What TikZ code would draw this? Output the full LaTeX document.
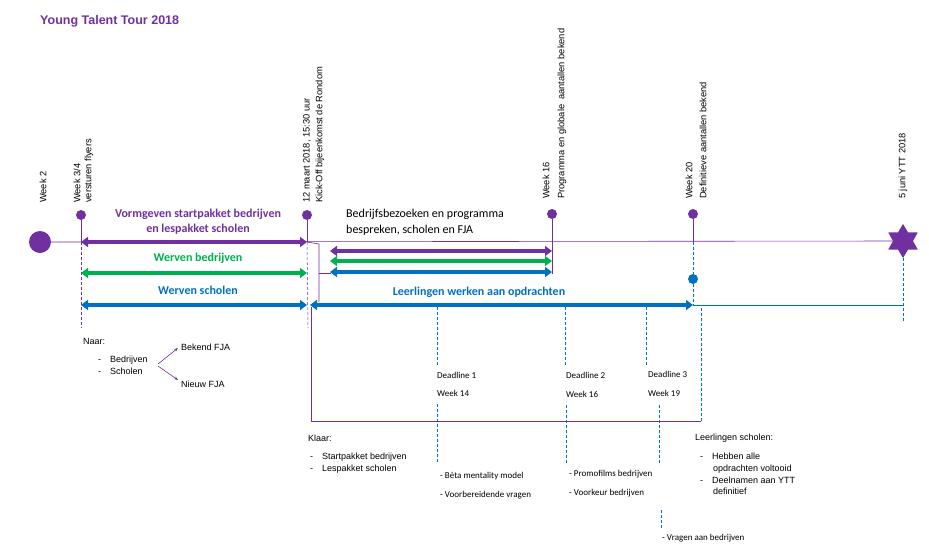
\documentclass[tikz,border=0pt]{standalone}
\usepackage{fontspec}
\setmainfont{Liberation Sans}
\newfontfamily\carl{Carlito}
\usetikzlibrary{arrows.meta,shapes.geometric}
\definecolor{pur}{RGB}{112,48,160}
\definecolor{grn}{RGB}{0,176,80}
\definecolor{blu}{RGB}{0,112,192}
\tikzset{
 x=1pt,y=-1pt,
 big/.style={line width=3.5pt,{Triangle[length=7pt,width=10pt]}-{Triangle[length=7pt,width=10pt]}},
 rot/.style={rotate=90,anchor=west,font=\fontsize{9.3}{10}\selectfont,inner sep=0pt},
 lab/.style={font=\carl\bfseries\fontsize{12}{15}\selectfont,align=center,inner sep=0pt},
 txt/.style={font=\fontsize{9}{11.5}\selectfont,anchor=west,inner sep=0pt,align=left},
 ctxt/.style={font=\carl\fontsize{9}{11}\selectfont,anchor=west,inner sep=0pt},
 dot/.style={circle,fill=pur,inner sep=0pt,minimum size=10pt},
 dsh/.style={blu,densely dashed,line width=0.5pt},
 thin/.style={pur,line width=0.6pt}
}
\begin{document}
\begin{tikzpicture}
\useasboundingbox (0,0) rectangle (929,552);
\node[anchor=west,font=\bfseries\fontsize{12.5}{14}\selectfont,text=pur,inner sep=0pt] (title) at (40,21) {Young Talent Tour 2018};
% main line
\node[circle,fill=pur,inner sep=0pt,minimum size=22pt] (w2) at (40,242) {};
\node[star,star points=6,star point ratio=1.7,fill=pur,inner sep=0pt,minimum size=34pt] (ytt) at (903,241) {};
\draw[thin] (w2) -- (ytt);
\node[dot] (d1) at (81,215) {};
\node[dot] (d2) at (307,215) {};
\node[dot] (d3) at (552,214) {};
\node[dot] (d4) at (693,214) {};
\node[circle,fill=blu,inner sep=0pt,minimum size=10pt] (bd) at (693,279) {};
\coordinate (a1) at (81,242); \coordinate (a2) at (307,242);
\coordinate (g1) at (81,273); \coordinate (g2) at (307,273);
\coordinate (b1) at (81,305); \coordinate (b2) at (307,305);
\coordinate (r1) at (330,251); \coordinate (r2) at (552,251);
\coordinate (s1) at (330,261); \coordinate (s2) at (552,261);
\coordinate (t1) at (330,272); \coordinate (t2) at (552,272);
\coordinate (l1) at (310,305); \coordinate (l2) at (693,305);
% verticals
\draw[thin] (d1) -- (a1);
\draw[pur,densely dashed,line width=0.5pt] (a1) -- (81,328);
\draw[thin] (d2) -- (a2);
\draw[pur,densely dashed,line width=0.5pt] (a2) -- (308,328);
\draw[thin] (d3) -- (552,274);
\draw[thin] (d4) -- (693,242);
\draw[dsh] (693,242) -- (bd);
\draw[dsh] (bd) -- (l2);
\draw[thin] (a2) -- (319,244) -- (319,302);
\draw[thin] (319,273) -- (331,273);
\draw[blu,line width=0.5pt] (l2) -- (903,305);
\draw[dsh] (ytt) -- (903,322);
% arrows
\draw[big,pur] (a1) -- (a2);
\draw[big,grn] (g1) -- (g2);
\draw[big,blu] (b1) -- (b2);
\draw[big,pur] (r1) -- (r2);
\draw[big,grn] (s1) -- (s2);
\draw[big,blu] (t1) -- (t2);
\draw[big,blu] (l1) -- (l2);
% labels
\node[lab,text=pur] (v) at (198,222) {Vormgeven startpakket bedrijven\\en lespakket scholen};
\node[lab,text=grn] (wb) at (198,258) {Werven bedrijven};
\node[lab,text=blu] (ws) at (198,290) {Werven scholen};
\node[lab,text=blu] (lw) at (479,292) {Leerlingen werken aan opdrachten};
\node[font=\carl\fontsize{12}{16}\selectfont,anchor=west,align=left,inner sep=0pt] (bb) at (346,222) {Bedrijfsbezoeken en programma\\bespreken, scholen en FJA};
% rotated
\node[rot] (r1t) at (43,203) {Week 2};
\node[rot] (r2t) at (77,203) {Week 3/4};
\node[rot] (r3t) at (89,203) {versturen flyers};
\node[rot] (r4t) at (307,203) {12 maart 2018, 15:30 uur};
\node[rot] (r5t) at (320,203) {Kick-Off bijeenkomst de Rondom};
\node[rot] (r6t) at (546,199) {Week 16};
\node[rot] (r7t) at (562,199) {Programma en globale\ \ aantallen bekend};
\node[rot] (r8t) at (689,199) {Week 20};
\node[rot] (r9t) at (703,199) {Definitieve aantallen bekend};
\node[rot] (r10t) at (903,199) {5 juni YTT 2018};
% deadlines
\draw[dsh] (437,307) -- (437,365); \draw[dsh] (437,404) -- (437,462);
\draw[dsh] (565,307) -- (565,365); \draw[dsh] (566,405) -- (566,465);
\draw[dsh] (646,307) -- (646,365); \draw[dsh] (659,405) -- (659,465);
\draw[dsh] (661,510) -- (661,530);
\draw[thin] (311,307) -- (311,421) -- (701,421);
\draw[dsh] (701,421) -- (701,305);
\node[ctxt] (dl1) at (437,375) {Deadline 1};
\node[ctxt] (wk1) at (437,393) {Week 14};
\node[ctxt] (dl2) at (566,375) {Deadline 2};
\node[ctxt] (wk2) at (566,394) {Week 16};
\node[ctxt] (dl3) at (648,374) {Deadline 3};
\node[ctxt] (wk3) at (648,393) {Week 19};
% bottom texts
\node[txt] (naar) at (83,341) {Naar:};
\node[txt] (bdr) at (98,360) {-\hspace{9pt}Bedrijven};
\node[txt] (sch) at (98,371) {-\hspace{9pt}Scholen};
\node[txt] (bek) at (181,347) {Bekend FJA};
\node[txt] (nie) at (181,384) {Nieuw FJA};
\draw[pur,line width=0.6pt,-{Stealth[length=4pt]}] (158,364) -- (178,348);
\draw[pur,line width=0.6pt,-{Stealth[length=4pt]}] (158,366) -- (178,380);
\node[txt] (kl) at (308,438) {Klaar:};
\node[txt] (kl1) at (310,457) {-\hspace{9pt}Startpakket bedrijven};
\node[txt] (kl2) at (310,469) {-\hspace{9pt}Lespakket scholen};
\node[ctxt] (b1t) at (440,476) {- Bèta mentality model};
\node[ctxt] (b2t) at (440,495) {- Voorbereidende vragen};
\node[ctxt] (p1t) at (569,474) {- Promofilms bedrijven};
\node[ctxt] (p2t) at (569,493) {- Voorkeur bedrijven};
\node[ctxt] (vat) at (662,538) {- Vragen aan bedrijven};
\node[txt] (ls) at (695,438) {Leerlingen scholen:};
\node[txt] (ls1) at (700,463) {-\hspace{9pt}Hebben alle\\\hspace{13pt}opdrachten voltooid};
\node[txt] (ls2) at (700,486) {-\hspace{9pt}Deelnamen aan YTT\\\hspace{13pt}definitief};
\end{tikzpicture}
\end{document}
